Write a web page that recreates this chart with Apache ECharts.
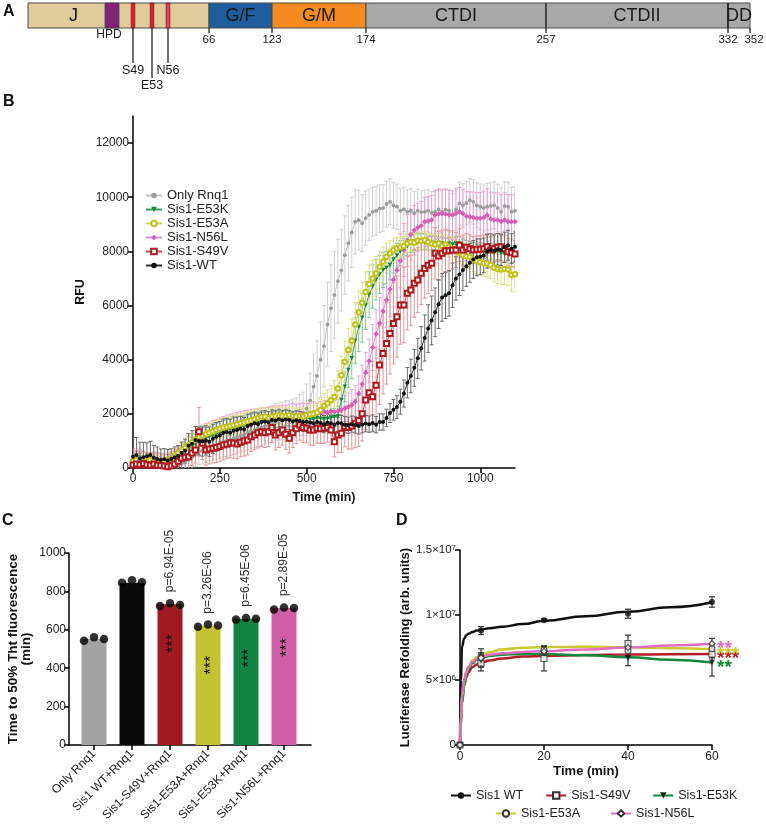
<!DOCTYPE html>
<html><head><meta charset="utf-8">
<script src="https://cdn.jsdelivr.net/npm/echarts@6/dist/echarts.min.js"></script>
<style>html,body{margin:0;padding:0;background:#fff}#c{width:766px;height:824px}</style>
</head><body><div id="c"></div>
<script>
// ---------------- Panel A data (schematic, diagram units) ----------------
const domainNames = ['J','G/F','G/M','CTDI','CTDII','DD'];
const domainStart = [0,181,244,338,518,700];
const domainEnd   = [181,244,338,518,700,722];
const boundaryPos = [181,244,338,518,700,722];
const boundaryRes = ['66','123','174','257','332','352'];
const hpdRange = [77,91];
const mutNames = ['S49','E53','N56'];
const mutPos = [105,124,140];

// ---------------- Panel B data ----------------
const bTimes = [0,10,20,30,40,50,60,70,80,90,100,110,120,130,140,150,160,170,180,190,200,210,220,230,240,250,260,270,280,290,300,310,320,330,340,350,360,370,380,390,400,410,420,430,440,450,460,470,480,490,500,510,520,530,540,550,560,570,580,590,600,610,620,630,640,650,660,670,680,690,700,710,720,730,740,750,760,770,780,790,800,810,820,830,840,850,860,870,880,890,900,910,920,930,940,950,960,970,980,990,1000,1010,1020,1030,1040,1050,1060,1070,1080,1090,1100];
const bXTicks = [0,250,500,750,1000];
const bYTicks = [0,2000,4000,6000,8000,10000,12000];
const onlyRnq1 = [300,250,200,250,200,180,150,120,100,80,
 80,80,100,120,150,200,300,400,500,600,
 650,720,780,830,880,930,970,1000,1050,1100,
 1150,1200,1250,1300,1350,1400,1450,1500,1550,1600,
 1650,1700,1720,1750,1780,1800,1820,1850,1950,2000,
 2200,2500,3000,3400,4000,4500,5300,5900,6390,6900,
 7300,7860,8300,8700,9100,9150,9040,9230,9350,9460,
 9500,9580,9600,9750,9830,9700,9650,9500,9550,9460,
 9500,9410,9500,9450,9460,9500,9420,9460,9550,9460,
 9550,9500,9350,9550,9770,9700,9780,9890,9830,9700,
 9650,9600,9650,9680,9700,9600,9460,9680,9650,9460,
 9500];
const onlyRnq1Err = [400,380,350,330,320,300,300,280,280,260,
 260,280,300,330,350,380,400,420,450,480,
 500,520,520,540,550,560,560,580,580,600,
 600,600,620,620,640,640,650,650,660,660,
 660,670,680,680,700,700,720,740,760,800,
 900,1000,1200,1300,1400,1500,1550,1600,1600,1550,
 1500,1450,1400,1300,1200,1100,1050,1000,950,900,
 900,880,860,850,850,840,840,830,820,820,
 820,810,800,800,800,790,790,790,780,780,
 780,780,780,790,790,800,800,810,820,830,
 840,850,860,860,870,880,880,890,900,900,
 900];
const e53k = [200,250,200,150,200,150,100,150,100,150,
 200,250,300,400,500,600,700,800,900,1000,
 1050,1100,1150,1200,1250,1300,1350,1400,1420,1450,
 1480,1520,1550,1600,1620,1650,1700,1720,1750,1780,
 1800,1780,1820,1800,1850,1820,1800,1850,1820,1800,
 1850,1820,1800,1850,1820,1800,1820,1850,1880,1900,
 2510,3000,3620,4050,4700,5200,5550,6000,6400,6700,
 6950,7150,7310,7400,7500,7700,7850,8000,8100,8200,
 8300,8360,8350,8360,8350,8300,8320,8300,8280,8290,
 8250,8280,8250,8290,8290,8200,8150,8100,8050,8000,
 8050,8000,7950,8000,7950,8000,7950,7900,7950,7900,
 7900];
const e53kErr = [300,280,260,250,240,230,220,210,200,200,
 200,210,220,240,260,280,300,320,340,360,
 380,390,400,400,410,400,400,390,400,400,
 400,390,380,370,360,350,340,330,320,310,
 300,300,290,290,280,280,280,270,270,270,
 260,260,250,250,250,250,260,280,320,380,
 450,550,650,750,850,900,900,880,850,800,
 750,700,650,600,550,500,450,400,380,360,
 340,320,300,290,280,270,260,250,250,250,
 250,250,250,250,250,250,260,260,270,270,
 280,280,290,290,300,300,300,300,300,300,
 300];
const e53a = [250,300,250,200,250,300,250,200,200,250,
 300,350,450,550,650,750,850,950,1050,1150,
 1200,1250,1300,1350,1400,1450,1500,1520,1550,1580,
 1620,1650,1680,1720,1750,1800,1850,1880,1900,1850,
 1900,1920,1950,1920,1900,1950,1920,1900,1930,1900,
 1950,1980,2000,2050,2140,2300,2390,2500,2630,2940,
 3430,3920,4360,4700,5300,5750,6100,6500,6800,7000,
 7190,7430,7620,7800,7930,8050,8110,8150,8200,8300,
 8350,8320,8400,8380,8420,8350,8290,8250,8300,8200,
 8250,8170,8100,8000,7950,7860,7820,7800,7700,7650,
 7600,7560,7550,7500,7400,7350,7330,7350,7330,7130,
 7160];
const e53aErr = [300,300,280,280,260,260,250,250,250,250,
 250,260,270,280,290,300,310,320,330,340,
 350,350,350,350,350,350,350,350,350,350,
 350,350,350,350,350,350,340,340,330,330,
 320,320,310,310,300,300,300,300,300,300,
 300,300,320,350,400,450,500,550,600,650,
 700,750,800,800,800,780,760,740,700,660,
 620,580,540,500,460,430,400,380,360,350,
 340,330,320,320,320,320,330,340,350,360,
 370,380,390,400,410,420,430,440,450,460,
 470,480,490,500,520,540,560,580,600,620,
 650];
const n56l = [300,250,300,250,200,250,200,200,150,200,
 250,300,350,450,550,650,750,850,950,1050,
 1100,1150,1200,1250,1300,1350,1400,1450,1480,1520,
 1550,1580,1620,1650,1700,1720,1750,1780,1800,1820,
 1850,1880,1900,1920,1900,1950,1980,1950,1980,2000,
 1980,2000,2050,2000,2050,2100,2050,2100,2080,2100,
 2150,2200,2250,2330,2450,2750,3100,3520,3950,4450,
 4950,5350,5800,6200,6600,6950,7300,7650,8050,8400,
 8620,8780,8880,8950,9090,9120,9160,9340,9380,9400,
 9380,9350,9340,9400,9460,9400,9300,9280,9250,9220,
 9220,9250,9340,9200,9160,9160,9100,9160,9100,9090,
 9090];
const n56lErr = [400,380,360,350,340,330,320,310,300,300,
 300,310,320,340,360,380,400,420,440,460,
 480,490,500,500,500,500,500,500,500,500,
 500,500,490,480,470,460,450,440,430,420,
 410,400,400,400,400,400,400,400,400,400,
 400,400,400,400,400,400,400,400,400,420,
 450,480,520,560,600,650,700,750,800,850,
 900,950,1000,1000,1000,1000,1000,1000,980,960,
 940,920,900,900,900,900,900,900,900,900,
 900,900,900,900,900,900,900,920,940,950,
 960,970,980,990,1000,1000,1000,1000,1000,1000,
 1000];
const s49v = [110,150,120,170,120,100,150,100,90,70,
 50,80,150,250,360,400,420,550,665,1340,
 910,665,700,727,760,790,850,880,935,920,
 890,950,1000,1030,1150,1220,1300,1340,1300,1340,
 1500,1220,1300,1400,1250,1100,1300,1450,1590,1500,
 1470,1400,1400,1470,1450,1470,1500,1400,970,1220,
 1280,1530,1500,1550,1650,1750,2000,2510,2780,2630,
 3060,3800,4230,4600,4970,5340,5590,6020,6020,6450,
 6570,6820,6940,7190,7370,7490,7560,7930,7830,7930,
 8020,8020,8050,8050,8230,8050,8150,8100,8050,8080,
 8080,8100,8170,8050,8100,8150,8170,8100,7990,7950,
 7900];
const s49vErr = [450,460,440,450,430,450,440,460,450,440,
 450,440,460,450,470,450,460,450,480,900,
 600,560,550,540,550,560,550,540,550,560,
 550,540,560,550,540,550,560,550,540,550,
 560,550,540,550,560,550,540,550,560,550,
 540,550,560,550,540,560,550,540,560,650,
 700,750,800,850,900,950,1000,1100,1200,1300,
 1400,1450,1500,1500,1500,1500,1500,1450,1400,1350,
 1300,1250,1200,1150,1100,1050,1000,950,900,850,
 800,750,700,650,600,550,500,510,500,490,
 500,510,500,490,500,510,500,490,500,510,
 500];
const sis1WT = [420,480,350,400,430,480,380,330,300,320,
 280,330,400,450,560,650,820,900,1030,1000,
 980,1020,970,1080,1150,1200,1290,1320,1300,1380,
 1400,1450,1420,1550,1600,1650,1620,1700,1720,1690,
 1770,1750,1800,1760,1790,1770,1720,1760,1740,1700,
 1710,1680,1650,1700,1660,1620,1680,1650,1600,1660,
 1640,1600,1580,1620,1590,1550,1600,1640,1620,1660,
 1600,1700,1700,1850,2030,2150,2250,2450,2750,3150,
 3400,3700,4050,4420,4800,5150,5450,5750,6050,6300,
 6380,6450,6750,7000,7150,7310,7450,7580,7700,7780,
 7800,7850,8000,8050,8020,8080,8050,8150,8230,8100,
 8170];
const sis1WTErr = [700,650,600,550,500,500,450,450,400,400,
 400,380,380,380,400,420,450,480,500,520,
 540,540,540,540,530,520,520,510,500,500,
 480,460,450,440,430,420,410,400,400,390,
 380,380,370,370,360,360,350,350,350,350,
 340,340,330,330,320,320,320,310,310,300,
 300,300,300,300,300,300,300,300,300,300,
 300,300,300,320,350,380,420,460,500,560,
 620,680,740,800,850,880,900,900,900,880,
 860,840,820,800,780,760,740,720,700,680,
 660,640,620,600,590,580,570,560,550,550,
 550];

// ---------------- Panel C data ----------------
const cCats = ['Only Rnq1','Sis1 WT+Rnq1','Sis1-S49V+Rnq1','Sis1-E53A+Rnq1','Sis1-E53K+Rnq1','Sis1-N56L+Rnq1'];
const cMeans = [552,845,733,621,658,713];
const cRep1 = [543,845,724,616,653,706];
const cRep2 = [561,858,738,628,662,716];
const cRep3 = [552,848,729,622,658,713];
const cPvals = ['','','p=6.94E-05','p=3.26E-06','p=6.45E-06','p=2.89E-05'];
const cStars = ['','','***','***','***','***'];

// ---------------- Panel D data ----------------
const dTimes = [0,5,20,40,60];
const dWT   = [0,8.8e6,9.6e6,1.01e7,1.10e7];
const dWTErr= [0,0.3e6,0.1e6,0.35e6,0.4e6];
const dS49V = [0,6.3e6,6.65e6,7.8e6,7.0e6];
const dS49VErr=[0,0.6e6,0.95e6,0.65e6,0.3e6];
const dE53K = [0,6.5e6,7.1e6,6.7e6,6.35e6];
const dE53KErr=[0,0.5e6,0.3e6,0.6e6,1.05e6];
const dE53A = [0,6.7e6,7.3e6,7.25e6,7.4e6];
const dE53AErr=[0,0.4e6,0.3e6,0.4e6,0.3e6];
const dN56L = [0,6.7e6,7.2e6,7.5e6,7.8e6];
const dN56LErr=[0,0.7e6,0.4e6,0.4e6,0.4e6];
const fitTimes = [0,0.2,0.5,1,1.5,2,3,4,5,7,10,15,20,30,40,50,60];
const fitWT   = [0,5.0e6,7.6e6,8.2e6,8.45e6,8.55e6,8.7e6,8.8e6,8.88e6,8.98e6,9.1e6,9.3e6,9.55e6,9.9e6,1.025e7,1.06e7,1.098e7];
const fitS49V = [0,1.8e6,3.4e6,4.6e6,5.2e6,5.6e6,6.0e6,6.2e6,6.3e6,6.5e6,6.65e6,6.8e6,6.85e6,6.92e6,6.96e6,6.98e6,7.0e6];
const fitE53K = [0,1.5e6,3.2e6,4.6e6,5.3e6,5.8e6,6.3e6,6.55e6,6.7e6,6.85e6,6.95e6,7.0e6,7.0e6,6.9e6,6.75e6,6.55e6,6.35e6];
const fitE53A = [0,2.0e6,3.8e6,5.0e6,5.6e6,6.0e6,6.5e6,6.75e6,6.9e6,7.15e6,7.35e6,7.48e6,7.53e6,7.56e6,7.52e6,7.45e6,7.36e6];
const fitN56L = [0,2.3e6,4.0e6,5.1e6,5.6e6,6.0e6,6.4e6,6.6e6,6.75e6,6.95e6,7.05e6,7.15e6,7.22e6,7.35e6,7.5e6,7.65e6,7.78e6];
const dYTicks = [0,5e6,1e7,1.5e7];
const dYTickText = ['0','5×10{s|6}','1×10{s|7}','1.5×10{s|7}'];
const dStars = {S49V:'***', E53K:'**', E53A:'***', N56L:'**'};

// ---------------- styling ----------------
const FONT = "'Liberation Sans', Arial, sans-serif";
const NARROW = "'Liberation Sans Narrow', 'Liberation Sans', Arial, sans-serif";
const DOMAIN_COLORS = ['#e0cb9a','#1f5e9e','#f58a20','#a8a8a8','#a8a8a8','#a8a8a8'];
const AX = {lineStyle:{color:'#000', width:1.5}};
const TICK = (len) => ({show:true, length:len, lineStyle:{color:'#000', width:1.5}});
const LBL = {color:'#222', fontSize:12, fontFamily:FONT, formatter: v => String(v)};
const NAME = {color:'#111', fontSize:12.5, fontWeight:'bold', fontFamily:FONT};
const pair = (xs, ys) => xs.map((x, i) => [x, ys[i]]);
const errData = (xs, ys, es) => xs.map((x, i) => [x, ys[i] - es[i], ys[i] + es[i]]);

function errBar(color, cap, lw) {
  return function (params, api) {
    const x = api.value(0);
    const lo = api.coord([x, api.value(1)]);
    const hi = api.coord([x, api.value(2)]);
    const st = {stroke: color, lineWidth: lw};
    return {type:'group', children:[
      {type:'line', shape:{x1:lo[0], y1:lo[1], x2:hi[0], y2:hi[1]}, style:st},
      {type:'line', shape:{x1:hi[0]-cap, y1:hi[1], x2:hi[0]+cap, y2:hi[1]}, style:st},
      {type:'line', shape:{x1:lo[0]-cap, y1:lo[1], x2:lo[0]+cap, y2:lo[1]}, style:st}
    ]};
  };
}
function txt(x, y, s, font, align) {
  return {type:'text', x:x, y:y, style:{text:s, font:font, fill:'#1a1a1a', align:align || 'center', verticalAlign:'middle', textAlign:align || 'center', textVerticalAlign:'middle'}};
}

const series = [];

// ----- Panel A series -----
series.push({
  type:'custom', xAxisIndex:0, yAxisIndex:0, silent:true,
  data: domainStart.map((s, i) => [s, domainEnd[i]]),
  encode:{x:[0,1]},
  renderItem(params, api) {
    const i = params.dataIndex;
    const tl = api.coord([domainStart[i], 1]);
    const br = api.coord([domainEnd[i], 0]);
    const lx = i === 0 ? api.coord([hpdRange[1] / 2, 0])[0] : (tl[0] + br[0]) / 2;
    return {type:'group', children:[
      {type:'rect', shape:{x:tl[0], y:tl[1], width:br[0]-tl[0], height:br[1]-tl[1]},
       style:{fill:DOMAIN_COLORS[i], stroke:'#4a4a4a', lineWidth:1}},
      txt(lx, (tl[1]+br[1])/2 + 1, domainNames[i], '18px ' + NARROW)
    ]};
  }
});
series.push({
  type:'custom', xAxisIndex:0, yAxisIndex:0, silent:true,
  data:[[hpdRange[0], hpdRange[1]]], encode:{x:[0,1]},
  renderItem(params, api) {
    const tl = api.coord([hpdRange[0], 1]);
    const br = api.coord([hpdRange[1], 0]);
    return {type:'group', children:[
      {type:'rect', shape:{x:tl[0], y:tl[1], width:br[0]-tl[0], height:br[1]-tl[1]},
       style:{fill:'#7d2274', stroke:'#4a4a4a', lineWidth:0.8}},
      txt((tl[0]+br[0])/2 - 3, br[1] + 7, 'HPD', '12px ' + NARROW)
    ]};
  }
});
series.push({
  type:'custom', xAxisIndex:0, yAxisIndex:0, silent:true,
  data: mutPos.map(p => [p]), encode:{x:0},
  renderItem(params, api) {
    const i = params.dataIndex;
    const top = api.coord([mutPos[i], 1]);
    const bot = api.coord([mutPos[i], 0]);
    const depth = i === 1 ? 50 : 35;
    const fill = i === 2 ? '#ec3a6c' : '#e3202a';
    return {type:'group', children:[
      {type:'rect', shape:{x:top[0]-1.8, y:top[1], width:3.6, height:bot[1]-top[1]},
       style:{fill:fill, stroke:'#6b1515', lineWidth:0.7}},
      {type:'line', shape:{x1:bot[0], y1:bot[1], x2:bot[0], y2:bot[1]+depth},
       style:{stroke:'#111', lineWidth:1.2}},
      txt(bot[0], bot[1]+depth+8, mutNames[i], '12.5px ' + NARROW)
    ]};
  }
});
series.push({
  type:'custom', xAxisIndex:0, yAxisIndex:0, silent:true,
  data: boundaryPos.map(p => [p]), encode:{x:0},
  renderItem(params, api) {
    const i = params.dataIndex;
    const b = api.coord([boundaryPos[i], 0]);
    const t = api.coord([boundaryPos[i], 1]);
    const shift = i === 5 ? 4 : 0;
    const kids = [
      {type:'line', shape:{x1:b[0], y1:b[1], x2:b[0], y2:b[1]+5}, style:{stroke:'#111', lineWidth:1.2}},
      txt(b[0] + shift, b[1]+12, boundaryRes[i], '11.5px ' + NARROW)
    ];
    if (i === 3 || i === 4) kids.push({type:'line', shape:{x1:t[0], y1:t[1], x2:b[0], y2:b[1]}, style:{stroke:'#222', lineWidth: i === 4 ? 1.6 : 1}});
    return {type:'group', children:kids};
  }
});

// ----- Panel B series -----
const bSeries = [
  {name:'Only Rnq1', d:onlyRnq1, e:onlyRnq1Err, sym:'circle', size:3.8, mc:'#9c9c9c', lc:'#c4c4c4', ec:'#d0d0d0'},
  {name:'Sis1-N56L', d:n56l, e:n56lErr, sym:'diamond', size:5.5, mc:'#d65db5', lc:'#e48ccd', ec:'#eaa5d8'},
  {name:'Sis1-E53K', d:e53k, e:e53kErr, sym:'triangle', rot:180, size:4.5, mc:'#13873c', lc:'#3d9e5e', ec:'#7fc497'},
  {name:'Sis1-E53A', d:e53a, e:e53aErr, sym:'emptyCircle', size:4.5, bw:1.2, mc:'#c2c21e', lc:'#d4d450', ec:'#e0e07e'},
  {name:'Sis1-S49V', d:s49v, e:s49vErr, sym:'emptyRect', size:5, bw:1.2, mc:'#b1181d', lc:'#cd4a4d', ec:'#e29595'},
  {name:'Sis1-WT', d:sis1WT, e:sis1WTErr, sym:'circle', size:4, mc:'#111', lc:'#333', ec:'#6a6a6a'}
];
bSeries.forEach(s => {
  series.push({
    type:'custom', name:s.name + ' err', xAxisIndex:1, yAxisIndex:1, silent:true, clip:true,
    data: errData(bTimes, s.d, s.e), encode:{x:0, y:[1,2]},
    renderItem: errBar(s.ec, 2, 1)
  });
  series.push({
    type:'line', name:s.name, xAxisIndex:1, yAxisIndex:1, silent:true,
    data: pair(bTimes, s.d), symbol:s.sym, symbolSize:s.size, symbolRotate:s.rot || 0,
    showSymbol:true, lineStyle:{color:s.lc, width:1},
    itemStyle:{color:s.mc, borderColor:s.mc, borderWidth:s.bw || 0}
  });
});

// ----- Panel C series -----
const C_COLORS = ['#a3a3a5','#0b0b0b','#9f1b21','#c2c232','#128545','#cf5ea6'];
series.push({
  type:'bar', xAxisIndex:2, yAxisIndex:2, barWidth:25, silent:true,
  data: cMeans.map((v, i) => ({value:v, itemStyle:{color:C_COLORS[i]}})),
  label:{show:true, position:'top', rotate:90, align:'left', verticalAlign:'middle', distance:12,
    formatter: p => cPvals[p.dataIndex], fontSize:12, color:'#333', fontFamily:FONT}
});
series.push({
  type:'bar', xAxisIndex:2, yAxisIndex:2, barWidth:25, barGap:'-100%', silent:true,
  data: cMeans.map(v => ({value:v, itemStyle:{color:'rgba(0,0,0,0)'}})),
  label:{show:true, position:'insideTop', rotate:90, align:'right', verticalAlign:'middle', distance:30,
    offset:[0,4], formatter: p => cStars[p.dataIndex], fontSize:16, color:'#111', fontFamily:FONT}
});
[[cRep1,-10],[cRep2,0],[cRep3,10]].forEach(([arr, off]) => {
  series.push({type:'scatter', xAxisIndex:2, yAxisIndex:2, silent:true, data:arr, symbol:'circle',
    symbolSize:8.5, symbolOffset:[off,0], itemStyle:{color:'#000'}, z:5});
});

// ----- Panel D series -----
const dSeries = [
  {name:'Sis1 WT', fit:fitWT, pts:dWT, err:dWTErr, color:'#111', sym:'circle', filled:true},
  {name:'Sis1-S49V\u200b', key:'S49V', fit:fitS49V, pts:dS49V, err:dS49VErr, color:'#b31d23', sym:'rect'},
  {name:'Sis1-E53K\u200b', key:'E53K', fit:fitE53K, pts:dE53K, err:dE53KErr, color:'#14883c', sym:'triangle', rot:180, filled:true},
  {name:'Sis1-E53A\u200b', key:'E53A', fit:fitE53A, pts:dE53A, err:dE53AErr, color:'#c9c935', sym:'circle'},
  {name:'Sis1-N56L\u200b', key:'N56L', fit:fitN56L, pts:dN56L, err:dN56LErr, color:'#df6ec2', sym:'diamond'}
];
dSeries.forEach(s => {
  series.push({
    type:'line', name:s.name, xAxisIndex:4, yAxisIndex:4, silent:true,
    data: pair(fitTimes, s.fit), smooth:0.5, smoothMonotone:'x', showSymbol:false,
    symbol:s.sym, symbolRotate:s.rot || 0,
    lineStyle:{color:s.color, width:2.5},
    itemStyle: s.filled ? {color: s.key ? '#222' : '#111'} : {color:'#fff', borderColor:'#333', borderWidth:1},
    endLabel: s.key ? {show:true, formatter:dStars[s.key], color:s.color, fontSize:19, fontWeight:'bold',
      distance:5, offset:[0,5], fontFamily:FONT} : {show:false},
    z:3
  });
});
dSeries.forEach(s => {
  series.push({
    type:'custom', name:s.name + ' err', xAxisIndex:4, yAxisIndex:4, silent:true,
    data: errData(dTimes, s.pts, s.err), encode:{x:0, y:[1,2]},
    renderItem: errBar('#333', 3, 1.2), z:4
  });
  series.push({
    type:'scatter', name:s.name + ' pts', xAxisIndex:4, yAxisIndex:4, silent:true,
    data: pair(dTimes, s.pts), symbol:s.sym, symbolRotate:s.rot || 0, symbolSize:6,
    itemStyle: s.filled ? {color:'#111'} : {color:'#fff', borderColor:'#333', borderWidth:1.1},
    z:5
  });
});

const option = {
  animation:false,
  backgroundColor:'#fff',
  textStyle:{fontFamily:FONT},
  grid:[
    {left:28, top:3, width:722, height:25},
    {left:133, top:116, width:382, height:352},
    {left:75, top:553, width:228, height:192},
    {left:69, top:553, width:242, height:192},
    {left:460, top:550, width:252, height:195}
  ],
  xAxis:[
    {gridIndex:0, type:'value', min:0, max:722, show:false},
    {gridIndex:1, type:'value', min:0, max:1100, axisLine:AX,
     axisTick:Object.assign(TICK(5), {customValues:bXTicks}),
     axisLabel:Object.assign({}, LBL, {customValues:bXTicks, margin:5}),
     splitLine:{show:false},
     name:'Time (min)', nameLocation:'middle', nameGap:23, nameTextStyle:NAME},
    {gridIndex:2, type:'category', data:cCats, axisLine:{show:false},
     axisTick:{show:true, alignWithLabel:true, length:5, lineStyle:{color:'#000', width:1.5}},
     axisLabel:{color:'#222', fontSize:12, fontFamily:FONT, rotate:45, margin:7, interval:0}},
    {gridIndex:3, type:'value', min:0, max:1, axisLine:AX, axisTick:{show:false}, axisLabel:{show:false}, splitLine:{show:false}},
    {gridIndex:4, type:'value', min:0, max:60, interval:20, axisLine:AX, axisTick:TICK(5),
     axisLabel:Object.assign({}, LBL, {margin:6}), splitLine:{show:false},
     name:'Time (min)', nameLocation:'middle', nameGap:20, nameTextStyle:Object.assign({}, NAME, {fontSize:13})}
  ],
  yAxis:[
    {gridIndex:0, type:'value', min:0, max:1, show:false},
    {gridIndex:1, type:'value', min:0, max:13000, axisLine:{show:true, lineStyle:{color:'#000', width:1.5}},
     axisTick:Object.assign(TICK(5), {customValues:bYTicks}),
     axisLabel:Object.assign({}, LBL, {customValues:bYTicks, margin:4}),
     splitLine:{show:false},
     name:'RFU', nameLocation:'middle', nameGap:46, nameTextStyle:NAME},
    {gridIndex:2, type:'value', min:0, max:1000, interval:200, offset:6,
     axisLine:{show:true, lineStyle:{color:'#000', width:1.5}}, axisTick:TICK(5),
     axisLabel:Object.assign({}, LBL, {margin:3}), splitLine:{show:false},
     name:'Time to 50% Tht fluorescence\n(min)', nameLocation:'middle', nameGap:36,
     nameTextStyle:Object.assign({}, NAME, {fontSize:13.5, lineHeight:13})},
    {gridIndex:3, type:'value', show:false},
    {gridIndex:4, type:'value', min:0, max:1.5e7, interval:5e6,
     axisLine:{show:true, lineStyle:{color:'#000', width:1.5}}, axisTick:TICK(5),
     axisLabel:{color:'#222', fontSize:11.5, fontFamily:FONT, margin:4,
       formatter: v => { const i = dYTicks.indexOf(v); return i >= 0 ? dYTickText[i] : ''; },
       rich:{s:{fontSize:8, verticalAlign:'top', color:'#222', fontFamily:FONT}}},
     splitLine:{show:false},
     name:'Luciferase Refolding (arb. units)', nameLocation:'middle', nameGap:40,
     nameTextStyle:Object.assign({}, NAME, {fontSize:13})}
  ],
  legend:[
    {data:['Only Rnq1','Sis1-E53K','Sis1-E53A','Sis1-N56L','Sis1-S49V','Sis1-WT'],
     orient:'vertical', left:145, top:189, padding:0, itemWidth:16, itemHeight:7, itemGap:1,
     selectedMode:false, textStyle:{fontSize:13, color:'#222', lineHeight:12.5, fontFamily:FONT}},
    {data:['Sis1 WT','Sis1-S49V\u200b','Sis1-E53K\u200b'], orient:'horizontal', left:450, top:789, padding:0,
     itemWidth:20, itemHeight:8, itemGap:22, selectedMode:false,
     textStyle:{fontSize:12.5, color:'#222', fontFamily:FONT}},
    {data:['Sis1-E53A\u200b','Sis1-N56L\u200b'], orient:'horizontal', left:495, top:807, padding:0,
     itemWidth:20, itemHeight:8, itemGap:30, selectedMode:false,
     textStyle:{fontSize:12.5, color:'#222', fontFamily:FONT}}
  ],
  graphic:[
    {type:'text', left:3, top:4, style:{text:'A', font:'bold 16px ' + FONT, fill:'#111'}},
    {type:'text', left:3, top:94, style:{text:'B', font:'bold 16px ' + FONT, fill:'#111'}},
    {type:'text', left:2, top:513, style:{text:'C', font:'bold 16px ' + FONT, fill:'#111'}},
    {type:'text', left:396, top:513, style:{text:'D', font:'bold 16px ' + FONT, fill:'#111'}}
  ],
  series:series
};

const chart = echarts.init(document.getElementById('c'), null, {renderer:'canvas'});
chart.setOption(option);
</script>
</body></html>
